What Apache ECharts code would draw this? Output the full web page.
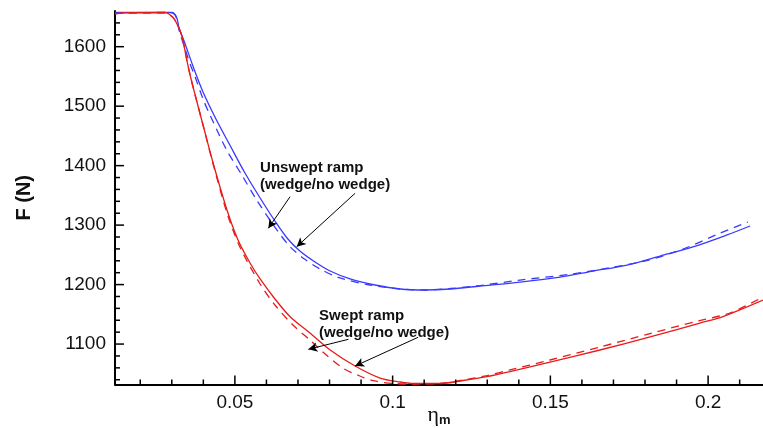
<!DOCTYPE html>
<html><head><meta charset="utf-8">
<script src="https://cdn.jsdelivr.net/npm/echarts@6/dist/echarts.min.js"></script>
<style>html,body{margin:0;padding:0;background:#fff}#c{width:763px;height:428px}</style>
</head><body><div id="c"></div>
<script>
// ---- data (eta_m, F in N) ----
const blueSolidX = [0.0120,0.0301,0.0310,0.0317,0.0323,0.0339,0.0367,0.0399,0.0440,0.0484,0.0532,0.0580,0.0627,0.0668,0.0706,0.0754,0.0802,0.0865,0.0944,0.1024,0.1103,0.1182,0.1277,0.1404,0.1531,0.1636,0.1743,0.1848,0.1952,0.2060,0.2133];
const blueSolidY = [1657.5,1657.5,1654.1,1646.6,1631.4,1609.6,1567.5,1523.8,1478.4,1434.7,1387.6,1345.6,1306.9,1276.6,1256.5,1238.0,1222.8,1209.4,1199.3,1192.6,1190.9,1192.6,1197.6,1204.3,1212.7,1222.8,1232.9,1248.0,1263.2,1283.4,1298.5];
const blueDashX = [0.0120,0.0301,0.0310,0.0317,0.0323,0.0339,0.0358,0.0374,0.0399,0.0421,0.0474,0.0522,0.0569,0.0633,0.0675,0.0717,0.0770,0.0833,0.0928,0.1024,0.1103,0.1182,0.1277,0.1404,0.1562,0.1689,0.1805,0.1921,0.2037,0.2126];
const blueDashY = [1656.7,1656.7,1653.3,1644.9,1628.1,1601.2,1570.9,1549.1,1512.1,1485.2,1426.3,1384.3,1342.2,1291.8,1263.7,1244.2,1226.2,1211.1,1199.3,1192.6,1190.9,1193.4,1198.4,1207.6,1217.3,1228.4,1240.2,1259.8,1286.2,1305.2];
const redSolidX = [0.0120,0.0152,0.0279,0.0291,0.0310,0.0332,0.0345,0.0358,0.0374,0.0399,0.0431,0.0475,0.0510,0.0548,0.0580,0.0627,0.0675,0.0738,0.0802,0.0881,0.0960,0.1024,0.1065,0.1150,0.1223,0.1299,0.1372,0.1499,0.1657,0.1816,0.1974,0.2047,0.2174];
const redSolidY = [1655.0,1656.7,1657.5,1655.0,1644.9,1618.0,1584.4,1552.4,1518.8,1468.3,1404.4,1325.4,1274.9,1236.3,1209.4,1175.8,1146.0,1118.6,1090.0,1063.1,1042.9,1036.2,1033.7,1033.7,1038.7,1045.1,1053.5,1069.8,1090.0,1111.9,1135.4,1146.3,1174.1];
const redDashX = [0.0120,0.0152,0.0279,0.0291,0.0310,0.0332,0.0345,0.0358,0.0374,0.0399,0.0431,0.0475,0.0516,0.0580,0.0627,0.0684,0.0738,0.0779,0.0842,0.0896,0.0944,0.1001,0.1065,0.1150,0.1223,0.1299,0.1372,0.1499,0.1657,0.1816,0.1974,0.2069,0.2174];
const redDashY = [1655.0,1656.7,1657.5,1655.0,1644.9,1618.0,1584.4,1552.4,1518.8,1468.3,1402.7,1320.4,1263.2,1201.0,1165.7,1132.0,1106.8,1086.6,1059.7,1046.3,1037.9,1033.7,1032.8,1033.7,1039.5,1047.1,1056.4,1073.2,1095.0,1117.7,1139.6,1152.2,1179.1];

// ---- ticks ----
const xMajorTicks = [0.05,0.1,0.15,0.2];
const xMinorTicks = [0.02,0.03,0.04,0.06,0.07,0.08,0.09,0.11,0.12,0.13,0.14,0.16,0.17,0.18,0.19,0.21];
const yMajorTicks = [1100,1200,1300,1400,1500,1600];
const yMinorTicks = [1040,1060,1080,1120,1140,1160,1180,1220,1240,1260,1280,1320,1340,1360,1380,1420,1440,1460,1480,1520,1540,1560,1580,1620,1640];

// ---- annotations (data coordinates) ----
const unsweptLabel = ['Unswept ramp','(wedge/no wedge)'];
const sweptLabel = ['Swept ramp','(wedge/no wedge)'];
const unsweptAnchor = [0.0580,1411];
const sweptAnchor = [0.0767,1162];
const arrows = [
  [[0.0675,1347.8],[0.0606,1294.6]],
  [[0.0881,1353.5],[0.0696,1263.7]],
  [[0.0860,1108.0],[0.0733,1091.2]],
  [[0.1081,1111.4],[0.0881,1063.1]]
];

const zip = (a,b) => a.map((v,i)=>[v,b[i]]);
const FONT = '"Liberation Sans", Arial, sans-serif';
const X_MIN = 0.012, X_MAX = 0.2174, Y_MIN = 1032, Y_MAX = 1660;

const chart = echarts.init(document.getElementById('c'), null, {renderer:'canvas'});

const lineSeries = (name, x, y, color, dashed, extra) => Object.assign({
  name, type:'line', data: zip(x,y), showSymbol:false, symbol:'none',
  smooth:0.3, clip:true,
  lineStyle:{color, width:1.3, type: dashed ? [8,6] : 'solid'},
  emphasis:{disabled:true}, z:3
}, extra||{});

const xMain = {
  type:'value', min:X_MIN, max:X_MAX, position:'bottom',
  axisLine:{show:true, onZero:false, lineStyle:{color:'#000', width:2}},
  axisTick:{show:false},
  axisLabel:{show:true, customValues:xMajorTicks, margin:9, fontSize:19, fontFamily:FONT, color:'#111',
    formatter:v=>String(+(+v).toFixed(3))},
  splitLine:{show:false},
  name:'{e|η}{s|m}', nameLocation:'middle', nameGap:18, nameMoveOverlap:false,
  nameTextStyle:{rich:{
    e:{fontSize:22, lineHeight:24, fontFamily:'"Liberation Serif", serif', color:'#111', verticalAlign:'bottom'},
    s:{fontSize:13, lineHeight:14, fontWeight:'bold', fontFamily:FONT, color:'#111', verticalAlign:'bottom'}
  }}
};
const yMain = {
  type:'value', min:Y_MIN, max:Y_MAX, position:'left',
  axisLine:{show:true, onZero:false, lineStyle:{color:'#000', width:2}},
  axisTick:{show:false},
  axisLabel:{show:true, customValues:yMajorTicks, margin:9, fontSize:19, fontFamily:FONT, color:'#111',
    formatter:v=>String(Math.round(v))},
  splitLine:{show:false},
  name:'F (N)', nameLocation:'middle', nameGap:81, nameRotate:90, nameMoveOverlap:false,
  nameTextStyle:{fontSize:20, fontWeight:'bold', fontFamily:FONT, color:'#111'}
};

chart.setOption({
  animation:false,
  backgroundColor:'#fff',
  grid:{left:115, top:11, width:648, height:373.5, outerBoundsMode:'none', containLabel:false},
  xAxis:[xMain],
  yAxis:[yMain],
  series:[
    lineSeries('Unswept ramp, wedge', blueSolidX, blueSolidY, '#3a3aff', false, {
      markLine:{
        silent:true, symbol:['none','arrow'], symbolSize:[7,9],
        label:{show:false}, lineStyle:{color:'#000', width:1, type:'solid'},
        emphasis:{disabled:true},
        data: arrows.map(a=>[{coord:a[0]},{coord:a[1]}])
      }
    }),
    lineSeries('Unswept ramp, no wedge', blueDashX, blueDashY, '#3a3aff', true),
    lineSeries('Swept ramp, wedge', redSolidX, redSolidY, '#e81a1a', false),
    lineSeries('Swept ramp, no wedge', redDashX, redDashY, '#e81a1a', true)
  ]
});

// axis ticks (inward) placed through the axes' own scales, plus annotation text
function decorate(){
  const xAt = v => chart.convertToPixel({xAxisIndex:0}, v);
  const yAt = v => chart.convertToPixel({yAxisIndex:0}, v);
  const x0 = xAt(X_MIN), y0 = yAt(Y_MIN);
  const tick = (x1,y1,x2,y2) => ({type:'line', silent:true, z:5,
    shape:{x1,y1,x2,y2}, style:{stroke:'#000', lineWidth:1.5}});
  const els = [];
  xMajorTicks.forEach(v => { const x = xAt(v); els.push(tick(x, y0, x, y0-9)); });
  xMinorTicks.forEach(v => { const x = xAt(v); els.push(tick(x, y0, x, y0-5)); });
  yMajorTicks.forEach(v => { const y = yAt(v); els.push(tick(x0, y, x0+9, y)); });
  yMinorTicks.forEach(v => { const y = yAt(v); els.push(tick(x0, y, x0+5, y)); });
  const txt = (p, lines) => ({
    type:'text', x:p[0], y:p[1], z:10, silent:true,
    style:{text:lines.join('\n'), font:'bold 15px '+FONT, fill:'#111', lineHeight:17, align:'left', verticalAlign:'top'}
  });
  els.push(txt(chart.convertToPixel({gridIndex:0}, unsweptAnchor), unsweptLabel));
  els.push(txt(chart.convertToPixel({gridIndex:0}, sweptAnchor), sweptLabel));
  chart.setOption({graphic:els});
}
decorate();
</script>
</body></html>
